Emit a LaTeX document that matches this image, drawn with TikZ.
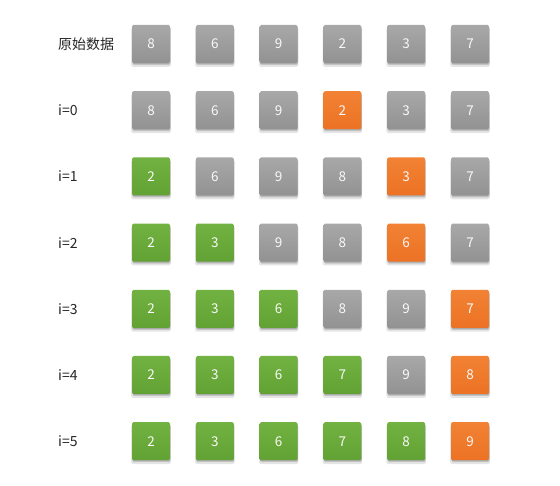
\documentclass[tikz,border=0pt]{standalone}
\usepackage{fontspec}
\setmainfont{Noto Sans CJK SC}
\usetikzlibrary{shadows}
\tikzset{
  cell/.style={minimum width=38pt,minimum height=38pt,rounded corners=1.5pt,inner sep=0pt,
    text=white!95!gray,font=\fontsize{13.5}{13.5}\selectfont,
    general shadow={shadow xshift=0pt,shadow yshift=-3pt,shadow scale=1.04,opacity=0.10,fill=black},
    general shadow={shadow xshift=0.5pt,shadow yshift=-2pt,opacity=0.15,fill=black},
    general shadow={shadow xshift=0pt,shadow yshift=-1pt,opacity=0.12,fill=black}},
  gr/.style={cell,top color={rgb,255:red,168;green,168;blue,168},bottom color={rgb,255:red,146;green,146;blue,146}},
  og/.style={cell,top color={rgb,255:red,242;green,130;blue,52},bottom color={rgb,255:red,236;green,114;blue,36}},
  gn/.style={cell,top color={rgb,255:red,114;green,178;blue,66},bottom color={rgb,255:red,98;green,162;blue,52}},
  lab/.style={anchor=west,inner sep=0pt,font=\fontsize{14}{14}\selectfont,text=black!85}
}
\begin{document}
\begin{tikzpicture}[x=1pt,y=-1pt]
\useasboundingbox (0,0) rectangle (560,486);
\foreach \r/\lbl/\vals in {
 0/原始数据/{8/gr,6/gr,9/gr,2/gr,3/gr,7/gr},
 1/i=0/{8/gr,6/gr,9/gr,2/og,3/gr,7/gr},
 2/i=1/{2/gn,6/gr,9/gr,8/gr,3/og,7/gr},
 3/i=2/{2/gn,3/gn,9/gr,8/gr,6/og,7/gr},
 4/i=3/{2/gn,3/gn,6/gn,8/gr,9/gr,7/og},
 5/i=4/{2/gn,3/gn,6/gn,7/gn,9/gr,8/og},
 6/i=5/{2/gn,3/gn,6/gn,7/gn,8/gn,9/og}} {
  \node[lab] (l\r) at (58,{44+66.2*\r}) {\lbl};
  \foreach \v/\s [count=\c from 0] in \vals {
    \node[\s] (b\r-\c) at ({151+63.8*\c},{44+66.2*\r}) {\v};
  }
}
\end{tikzpicture}
\end{document}
